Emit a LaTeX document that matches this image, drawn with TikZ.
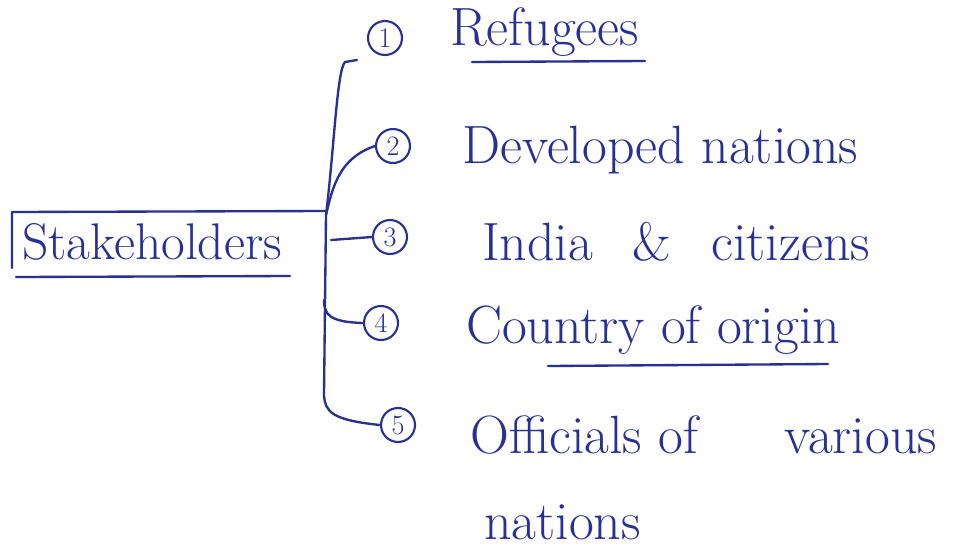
\documentclass[tikz,border=0pt]{standalone}
\usepackage{xcolor}
\definecolor{ink}{RGB}{38,48,150}
\begin{document}
\begin{tikzpicture}[x=0.03cm,y=-0.03cm,
  ink line/.style={draw=ink,line width=2pt,line cap=round,line join=round},
  numcirc/.style={circle,draw=ink,line width=1.8pt,minimum size=29,inner sep=0pt,text=ink,font=\fontsize{24}{26}\selectfont},
  label text/.style={text=ink,anchor=west,inner sep=0pt,font=\fontsize{46}{52}\selectfont}]
\useasboundingbox (0,0) rectangle (953,550);
\fill[white] (0,0) rectangle (953,550);

% stakeholders box
\node[text=ink,inner sep=0pt,font=\fontsize{44}{50}\selectfont] (st) at (152,242) {Stakeholders};
\coordinate (bTL) at (12,212);
\coordinate (bTR) at (326,211);
\coordinate (bBL) at (12,268);
\coordinate (uL) at (16,277);
\coordinate (uR) at (290,276);
\draw[ink line] (bBL) -- (bTL) -- (bTR);
\draw[ink line] (uL) -- (uR);

% numbered circles
\node[numcirc] (c1) at (385,38) {1};
\node[numcirc] (c2) at (393,146) {2};
\node[numcirc] (c3) at (390,237) {3};
\node[numcirc] (c4) at (381,323) {4};
\node[numcirc] (c5) at (398,425) {5};

% labels
\node[label text] (t1) at (450,32) {Refugees};
\node[label text] (t2) at (462,150) {Developed nations};
\node[label text] (t3) at (482,242) {India\hspace{20pt} \& \hspace{20pt}citizens};
\node[label text] (t4) at (466,330) {Country of origin};
\node[label text] (t5) at (470,435) {Officials of\hspace{60pt} various};
\node[label text] (t5b) at (484,522) {nations};

% underlines
\coordinate (u1a) at (472,62); \coordinate (u1b) at (645,61);
\coordinate (u4a) at (548,366); \coordinate (u4b) at (828,364);
\draw[ink line] (u1a) -- (u1b);
\draw[ink line] (u4a) -- (u4b);

% connectors
\coordinate (top) at (357,60);
\coordinate (hub) at (326,215);
\coordinate (low) at (324,300);
\draw[ink line] (top) -- (345,62) .. controls (337,70) and (334,150) .. (hub)
  -- (324,395) .. controls (325,412) and (332,420) .. (c5.west);
\draw[ink line] (low) .. controls (324,315) and (330,322) .. (c4.west);
\draw[ink line] (hub) .. controls (333,185) and (340,158) .. (c2.west);
\draw[ink line] (331,240) -- (c3.west);
\end{tikzpicture}
\end{document}
